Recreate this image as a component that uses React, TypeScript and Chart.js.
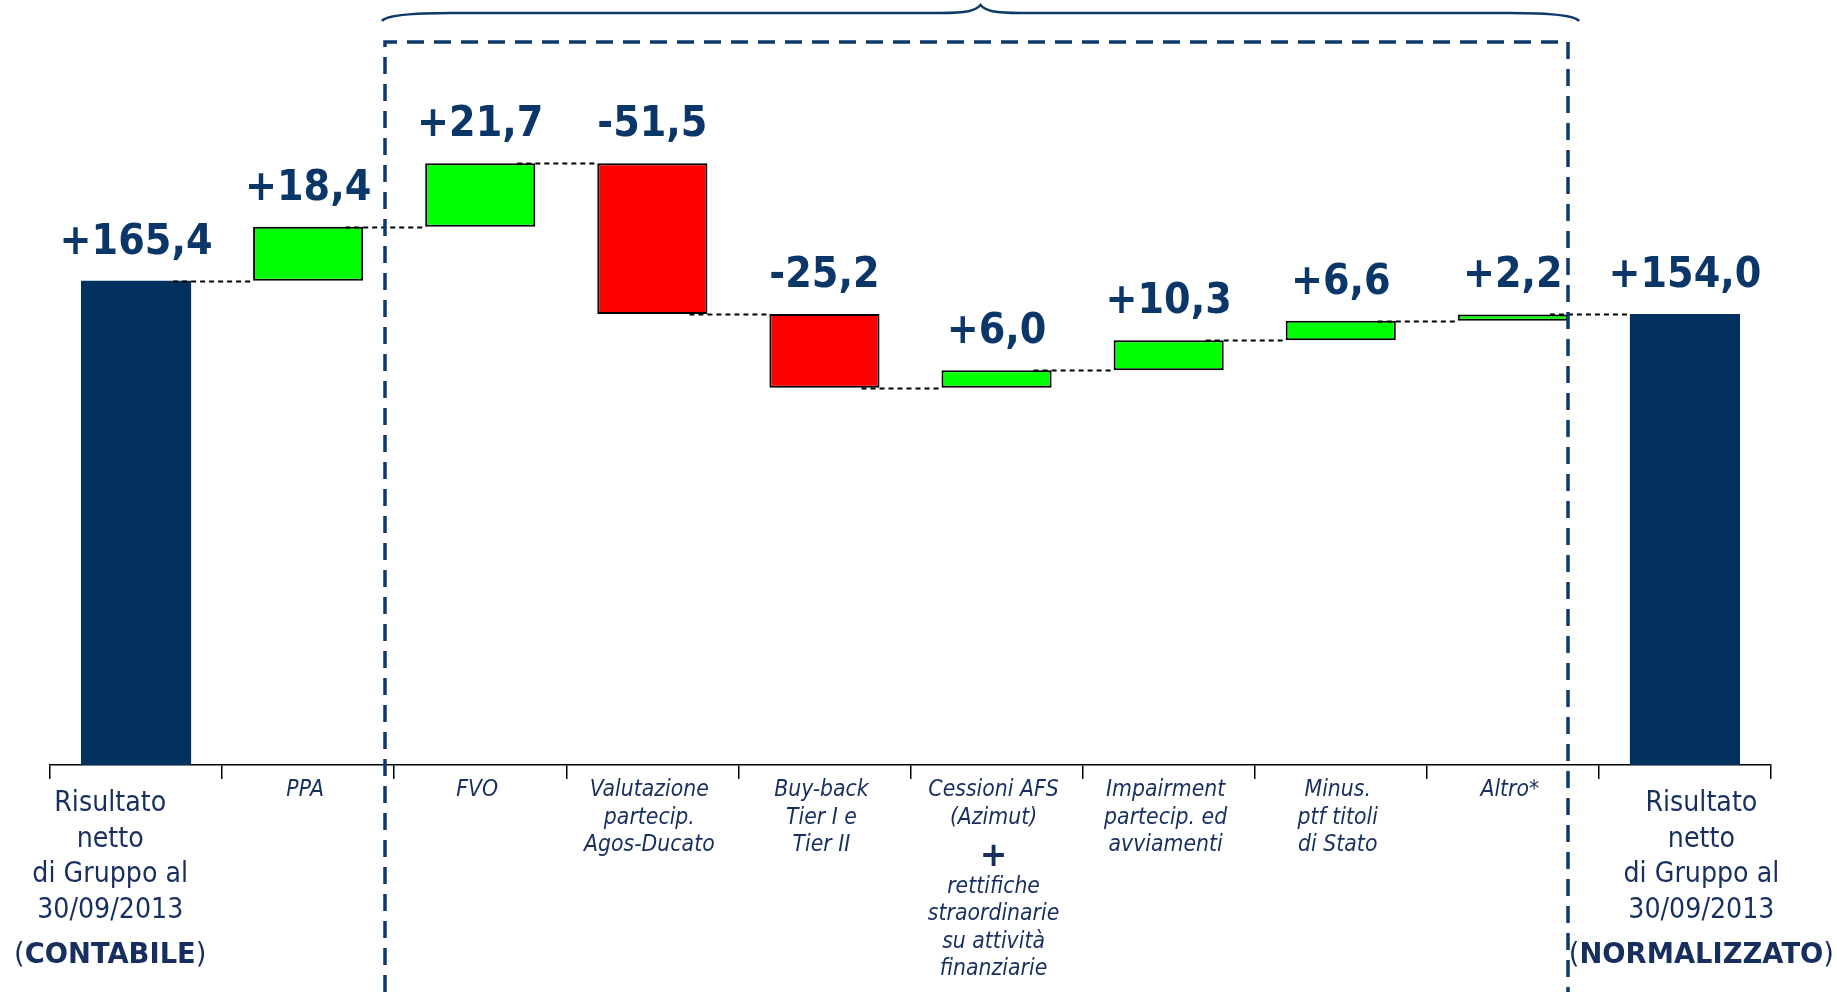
import React, { useEffect, useRef } from "react";
import { Chart, registerables } from "chart.js";

Chart.register(...registerables);

// ---- data ----
const categoryLines: string[][] = [
  ["Risultato", "netto", "di Gruppo al", "30/09/2013"],
  ["PPA"],
  ["FVO"],
  ["Valutazione", "partecip.", "Agos-Ducato"],
  ["Buy-back", "Tier I e", "Tier II"],
  ["Cessioni AFS", "(Azimut)", "+", "rettifiche", "straordinarie", "su attività", "finanziarie"],
  ["Impairment", "partecip. ed", "avviamenti"],
  ["Minus.", "ptf titoli", "di Stato"],
  ["Altro*"],
  ["Risultato", "netto", "di Gruppo al", "30/09/2013"],
];
const totalTags = ["CONTABILE", "", "", "", "", "", "", "", "", "NORMALIZZATO"];
const isTotal = [true, false, false, false, false, false, false, false, false, true];
const amounts = [165.4, 18.4, 21.7, -51.5, -25.2, 6.0, 10.3, 6.6, 2.2, 154.0];
const valueLabels = ["+165,4", "+18,4", "+21,7", "-51,5", "-25,2", "+6,0", "+10,3", "+6,6", "+2,2", "+154,0"];

// ---- derived floating ranges ----
const ranges: [number, number][] = (() => {
  let run = 0;
  return amounts.map((v, i) => {
    if (isTotal[i]) {
      run = v;
      return [0, v] as [number, number];
    }
    const r: [number, number] = [run, run + v];
    run += v;
    return r;
  });
})();

const NAVY = "#02305F";
const TEXT_NAVY = "#0B3668";
const LABEL_NAVY = "#172F5E";
const colors = amounts.map((v, i) => (isTotal[i] ? NAVY : v >= 0 ? "#00FF00" : "#FF0000"));
const borderWidths = amounts.map((_, i) => (isTotal[i] ? 0 : 2));

const FONT = '"DejaVu Sans", Verdana, sans-serif';

function drawScaled(ctx: CanvasRenderingContext2D, text: string, x: number, y: number, font: string, sx: number, align: CanvasTextAlign = "center") {
  ctx.save();
  ctx.font = font;
  ctx.translate(x, y);
  ctx.scale(sx, 1);
  ctx.textAlign = align;
  ctx.textBaseline = "alphabetic";
  ctx.fillText(text, 0, 0);
  ctx.restore();
}

const overlayPlugin = {
  id: "waterfallOverlay",
  afterDraw(chart: any) {
    const ctx: CanvasRenderingContext2D = chart.ctx;
    const xs = chart.scales.x;
    const ys = chart.scales.y;
    const meta = chart.getDatasetMeta(0);
    const W = chart.width;

    // connectors
    ctx.save();
    ctx.strokeStyle = "#000";
    ctx.lineWidth = 1.8;
    ctx.setLineDash([5, 4]);
    for (let i = 0; i < ranges.length - 1; i++) {
      const a = meta.data[i];
      const b = meta.data[i + 1];
      const level = ranges[i][1];
      const y = Math.round(ys.getPixelForValue(level)) + 0.5;
      ctx.beginPath();
      ctx.moveTo(a.x + a.width / 2 - 18, y);
      ctx.lineTo(b.x - b.width / 2, y);
      ctx.stroke();
    }
    ctx.restore();

    // value labels
    ctx.save();
    ctx.fillStyle = TEXT_NAVY;
    for (let i = 0; i < ranges.length; i++) {
      const el = meta.data[i];
      const top = ys.getPixelForValue(Math.max(ranges[i][0], ranges[i][1]));
      drawScaled(ctx, valueLabels[i], el.x, top - 27, `bold 42px ${FONT}`, 0.91);
    }
    ctx.restore();

    // category labels
    const baseY = chart.chartArea.bottom;
    ctx.save();
    for (let i = 0; i < categoryLines.length; i++) {
      const lines = categoryLines[i];
      let cx = xs.getPixelForValue(i);
      if (isTotal[i]) {
        ctx.fillStyle = LABEL_NAVY;
        const regFont = `28.5px ${FONT}`;
        const boldFont = `bold 28.5px ${FONT}`;
        const sx = 0.89;
        const sxTag = 0.96;
        ctx.font = regFont;
        let maxW = 0;
        for (const l of lines) maxW = Math.max(maxW, ctx.measureText(l).width * sx);
        const pw = ctx.measureText("(").width;
        const pw2 = ctx.measureText(")").width;
        ctx.font = boldFont;
        const tw = ctx.measureText(totalTags[i]).width;
        const tagW = (pw + pw2 + tw) * sxTag;
        maxW = Math.max(maxW, tagW);
        const half = maxW / 2;
        // total blocks are pinned to the outer page edges
        cx = i === 0 ? 14 + half : W - 3 - half;
        let y = baseY + 46;
        for (const l of lines) {
          drawScaled(ctx, l, cx, y, regFont, sx);
          y += 35.5;
        }
        y += 10;
        ctx.save();
        ctx.translate(cx - tagW / 2, y);
        ctx.scale(sxTag, 1);
        ctx.textAlign = "left";
        ctx.font = regFont;
        ctx.fillText("(", 0, 0);
        ctx.font = boldFont;
        ctx.fillText(totalTags[i], pw, 0);
        ctx.font = regFont;
        ctx.fillText(")", pw + tw, 0);
        ctx.restore();
      } else {
        ctx.fillStyle = LABEL_NAVY;
        const itFont = `italic 23px ${FONT}`;
        const sx = 0.89;
        cx -= 3;
        let y = baseY + 31;
        let first = true;
        for (const l of lines) {
          if (l === "+") {
            const c = y + 30;
            drawScaled(ctx, "+", cx, c + 12, `italic bold 33px ${FONT}`, 1);
            y += 41.5;
            continue;
          }
          if (!first) y += 27.5;
          drawScaled(ctx, l, cx, y, itFont, sx);
          first = false;
        }
      }
    }
    ctx.restore();

    // dashed box
    const boxLeft = Math.round(xs.getPixelForValue(1.5) - 9);
    const boxRight = Math.round(xs.getPixelForValue(8) + meta.data[8].width / 2);
    const boxTop = 42;
    ctx.save();
    ctx.strokeStyle = "#0D3A6B";
    ctx.lineWidth = 3.5;
    ctx.setLineDash([17, 10]);
    ctx.beginPath();
    ctx.moveTo(boxLeft, chart.height);
    ctx.lineTo(boxLeft, boxTop);
    ctx.lineTo(boxRight, boxTop);
    ctx.lineTo(boxRight, chart.height);
    ctx.stroke();
    ctx.restore();

    // brace
    const bl = boxLeft - 3;
    const br = boxRight + 11;
    const bm = (bl + br) / 2;
    const by = 13;
    ctx.save();
    ctx.strokeStyle = "#0D3A6B";
    ctx.lineWidth = 2.5;
    ctx.beginPath();
    ctx.moveTo(bl, 21);
    ctx.bezierCurveTo(bl + 4, 15, bl + 30, by, bl + 70, by);
    ctx.lineTo(bm - 40, by);
    ctx.bezierCurveTo(bm - 14, by, bm - 5, by - 2, bm, 5);
    ctx.bezierCurveTo(bm + 5, by - 2, bm + 14, by, bm + 40, by);
    ctx.lineTo(br - 70, by);
    ctx.bezierCurveTo(br - 30, by, br - 4, 15, br, 21);
    ctx.stroke();
    ctx.restore();
  },
};

export default function App() {
  const canvasRef = useRef<HTMLCanvasElement | null>(null);

  useEffect(() => {
    const canvas = canvasRef.current;
    if (!canvas) return;
    const chart = new Chart(canvas, {
      type: "bar",
      data: {
        labels: categoryLines.map((l) => l.join(" ")),
        datasets: [
          {
            data: ranges as any,
            backgroundColor: colors,
            borderColor: "#000000",
            borderWidth: borderWidths,
            borderSkipped: false,
            barPercentage: 0.64,
            categoryPercentage: 1,
          },
        ],
      },
      options: {
        responsive: false,
        animation: false,
        devicePixelRatio: 1,
        layout: { padding: { left: 50, right: 66, top: 33, bottom: 213 } },
        plugins: {
          legend: { display: false },
          tooltip: { enabled: false },
        },
        scales: {
          x: {
            offset: true,
            grid: {
              offset: true,
              drawOnChartArea: false,
              drawTicks: true,
              tickLength: 14,
              color: "#000",
              lineWidth: 1.5,
            },
            border: { display: true, color: "#000", width: 1.5 },
            ticks: { display: false },
          },
          y: { display: false, min: 0, max: 250 },
        },
      },
      plugins: [overlayPlugin],
    });
    return () => chart.destroy();
  }, []);

  return (
    <div style={{ position: "fixed", left: 0, top: 0, width: 1837, height: 992, background: "#fff" }}>
      <canvas ref={canvasRef} width={1837} height={992} style={{ width: 1837, height: 992, display: "block" }} />
    </div>
  );
}
